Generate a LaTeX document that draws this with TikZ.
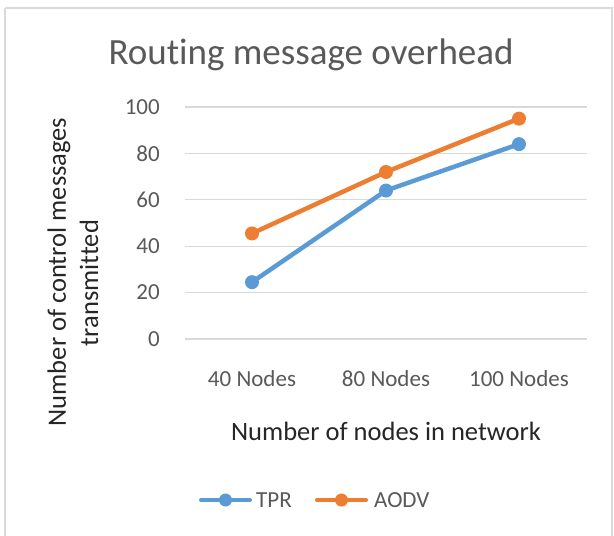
\documentclass[tikz,border=0pt]{standalone}
\usepackage{fontspec}
\setmainfont{Carlito}[Ligatures=NoCommon]
\definecolor{tpr}{HTML}{5B9BD5}
\definecolor{aodv}{HTML}{ED7D31}
\definecolor{txt}{HTML}{595959}
\definecolor{grid}{HTML}{D9D9D9}
\tikzset{
  gridline/.style={draw=grid, line width=1.2pt},
  ticklbl/.style={text=txt, anchor=east, font=\fontsize{23}{26}\selectfont, inner sep=0pt},
  catlbl/.style={text=txt, anchor=center, font=\fontsize{23}{26}\selectfont, inner sep=0pt},
  axtitle/.style={text=black!85, font=\fontsize{26.5}{30}\selectfont, inner sep=0pt},
  series/.style={line width=4.5pt, line cap=round, line join=round},
  marker/.style={circle, inner sep=0pt, minimum size=14pt},
}
\begin{document}
\begin{tikzpicture}[x=1pt,y=-1pt]
\useasboundingbox (0,0) rectangle (614,536);
\fill[white] (0,0) rectangle (614,536);
\draw[draw=grid, line width=1.5pt] (5,8) -- (612,8) -- (612,545) (5,8) -- (5,545);
% title
\node[text=txt, font=\fontsize{37}{40}\selectfont, inner sep=0pt] (title) at (311,55) {Routing message overhead};
% grid and ticks
\foreach \v/\n in {0/g0,20/g20,40/g40,60/g60,80/g80,100/g100}{
  \draw[gridline] (185,339-2.32*\v) coordinate (\n a) -- (587,339-2.32*\v) coordinate (\n b);
  \node[ticklbl] (l\n) at (160,339-2.32*\v) {\v};
}
% categories
\node[catlbl] (c1) at (252,379) {40 Nodes};
\node[catlbl] (c2) at (386,379) {80 Nodes};
\node[catlbl] (c3) at (519,379) {100 Nodes};
% axis titles
\node[axtitle] (xt) at (386,431) {Number of nodes in network};
\node[axtitle, rotate=90] (yt1) at (59,272) {Number of control messages};
\node[axtitle, rotate=90] (yt2) at (89,283) {transmitted};
% data
\coordinate (t1) at (252,339-2.32*24.5);
\coordinate (t2) at (386,339-2.32*64);
\coordinate (t3) at (519,339-2.32*84);
\coordinate (a1) at (252,339-2.32*45.5);
\coordinate (a2) at (386,339-2.32*72);
\coordinate (a3) at (519,339-2.32*95);
\draw[series, tpr] (t1) -- (t2) -- (t3);
\draw[series, aodv] (a1) -- (a2) -- (a3);
\foreach \p in {t1,t2,t3}{\node[marker, fill=tpr] (m\p) at (\p) {};}
\foreach \p in {a1,a2,a3}{\node[marker, fill=aodv] (m\p) at (\p) {};}
% legend
\coordinate (lt1) at (201,500); \coordinate (lt2) at (250,500);
\draw[series, tpr, line width=4pt] (lt1) -- (lt2);
\node[marker, fill=tpr, minimum size=13pt] (ltm) at (225.5,500) {};
\node[text=txt, anchor=west, font=\fontsize{23}{26}\selectfont, inner sep=0pt] (ltx) at (256,500) {TPR};
\coordinate (la1) at (317,500); \coordinate (la2) at (366,500);
\draw[series, aodv, line width=4pt] (la1) -- (la2);
\node[marker, fill=aodv, minimum size=13pt] (lam) at (341.5,500) {};
\node[text=txt, anchor=west, font=\fontsize{23}{26}\selectfont, inner sep=0pt] (lax) at (374,500) {AODV};
\end{tikzpicture}
\end{document}
